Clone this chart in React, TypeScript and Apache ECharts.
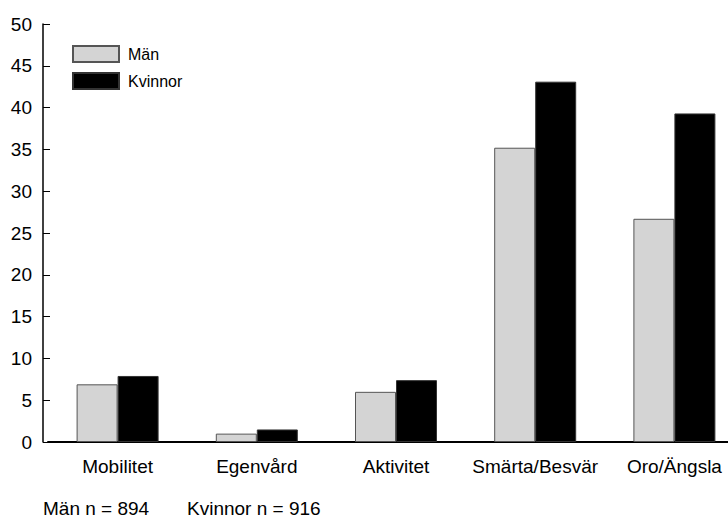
import React, { useEffect, useRef } from "react";
import * as echarts from "echarts";

const categories = ["Mobilitet", "Egenvård", "Aktivitet", "Smärta/Besvär", "Oro/Ängsla"];
const manValues = [6.9, 1.0, 6.0, 35.2, 26.7];
const kvinnorValues = [7.9, 1.5, 7.4, 43.1, 39.3];
const seriesNames = ["Män", "Kvinnor"];
const footnoteMan = "Män n = 894";
const footnoteKvinnor = "Kvinnor n = 916";

const FONT = "'Liberation Sans', Arial, Helvetica, sans-serif";

export default function App() {
  const ref = useRef<HTMLDivElement>(null);
  useEffect(() => {
    if (!ref.current) return;
    const chart = echarts.init(ref.current, null, { renderer: "svg" });
    chart.setOption({
      animation: false,
      backgroundColor: "#ffffff",
      textStyle: { fontFamily: FONT },
      grid: { left: 48, top: 24, right: 0, height: 418 },
      legend: {
        orient: "vertical",
        left: 72,
        top: 45,
        padding: 0,
        icon: "rect",
        itemWidth: 46,
        itemHeight: 16,
        itemGap: 9,
        data: seriesNames,
        textStyle: { fontFamily: FONT, fontSize: 16, color: "#000", padding: [0, 0, 0, 4] },
        selectedMode: false,
      },
      xAxis: {
        type: "category",
        data: categories,
        axisTick: { show: false },
        axisLine: { lineStyle: { color: "#000", width: 2 } },
        axisLabel: { fontFamily: FONT, fontSize: 19, color: "#000", margin: 15, interval: 0 },
      },
      yAxis: {
        type: "value",
        min: 0,
        max: 50,
        interval: 5,
        offset: 5,
        axisLine: { show: true, lineStyle: { color: "#000", width: 1.5 } },
        axisTick: { show: true, inside: true, length: 7, lineStyle: { color: "#000", width: 1 } },
        splitLine: { show: false },
        axisLabel: { fontFamily: FONT, fontSize: 19, color: "#000", margin: 11 },
      },
      series: [
        {
          name: seriesNames[0],
          type: "bar",
          data: manValues,
          barWidth: 41,
          barGap: "0%",
          itemStyle: { color: "#d4d4d4", borderColor: "#555", borderWidth: 1 },
        },
        {
          name: seriesNames[1],
          type: "bar",
          data: kvinnorValues,
          barWidth: 41,
          barGap: "0%",
          itemStyle: { color: "#000000", borderColor: "#333", borderWidth: 1 },
        },
      ],
      graphic: [
        {
          type: "text",
          left: 43,
          top: 499,
          style: { text: footnoteMan, font: `19px ${FONT}`, fill: "#000" },
        },
        {
          type: "text",
          left: 187,
          top: 499,
          style: { text: footnoteKvinnor, font: `19px ${FONT}`, fill: "#000" },
        },
      ],
    });
    return () => chart.dispose();
  }, []);
  return (
    <div
      style={{
        position: "fixed",
        left: 0,
        top: 0,
        width: 728,
        height: 519,
        overflow: "hidden",
        background: "#fff",
      }}
    >
      <div ref={ref} style={{ width: 744, height: 519 }} />
    </div>
  );
}
